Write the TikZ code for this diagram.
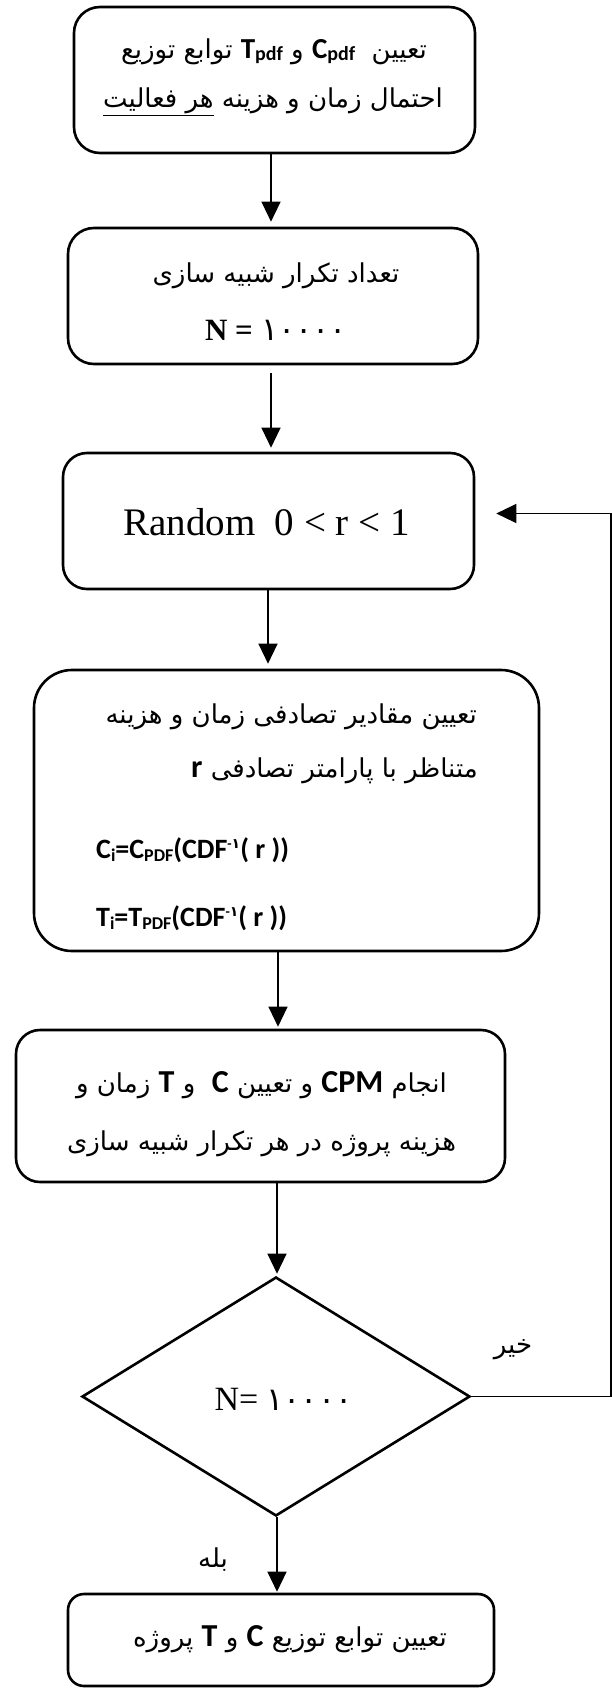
\documentclass[tikz,border=0pt]{standalone}
\usepackage{fontspec}
\setmainfont{Liberation Serif}
\newfontfamily\fa[Script=Arabic]{DejaVu Sans}
\newfontfamily\lbf{Carlito}
\TeXXeTstate=1
\usetikzlibrary{arrows.meta,shapes.geometric}
\newcommand\FA{\fa\fontsize{26}{30}\selectfont}
\newcommand\LB[2][30]{\mbox{\beginL\lbf\bfseries\fontsize{#1}{#1}\selectfont #2\endL}}
\newcommand\pdfsub{\raisebox{-2pt}{\fontsize{20}{20}\selectfont pdf}}
\newcommand\subs[1]{\raisebox{-3pt}{\fontsize{18}{18}\selectfont #1}}
\newcommand\sups[1]{\raisebox{10pt}{\fontsize{14}{14}\selectfont #1}}
\newcommand\dig{{\fa\fontsize{32}{32}\selectfont ۱۰۰۰۰}}
\tikzset{
  box/.style={draw, line width=2.6pt, rounded corners=#1, inner sep=0pt},
  box/.default=25pt,
  txt/.style={inner sep=0pt, font=\FA},
  arr/.style={line width=1.2pt, -{Triangle[length=20pt,width=19pt]}},
  fb/.style={line width=1.2pt}
}
\begin{document}
\begin{tikzpicture}[x=1pt,y=-1pt]
\useasboundingbox (0,0) rectangle (612,1688);
% shapes
\node[box=26pt, minimum width=401pt, minimum height=146pt] (b1) at (274.5,80) {};
\node[box=26pt, minimum width=410pt, minimum height=136pt] (b2) at (273,296) {};
\node[box=24pt, minimum width=411pt, minimum height=136pt] (b3) at (268.5,521) {};
\node[box=38pt, minimum width=505pt, minimum height=281pt] (b4) at (286.5,810.5) {};
\node[box=24pt, minimum width=489pt, minimum height=152pt] (b5) at (260.5,1106) {};
\node[diamond, draw, line width=2.6pt, minimum width=388pt, minimum height=239pt, inner sep=0pt] (d) at (276,1396.5) {};
\node[box=16pt, minimum width=426pt, minimum height=92pt] (b6) at (281,1640) {};
% texts
\node[txt] (t1a) at (274,52) {\beginR تعیین \ \LB[29]{C\pdfsub} و \LB[29]{T\pdfsub} توابع توزیع\endR};
\node[txt] (t1b) at (273,102) {\beginR احتمال زمان و هزینه \underline{\beginR هر فعالیت\endR}\endR};
\node[txt] (t2a) at (276,276) {\beginR تعداد تکرار شبیه سازی\endR};
\node[txt] (t2b) at (276,330) {{\fontspec{Liberation Serif}\bfseries\fontsize{31}{31}\selectfont N =} \dig};
\node[txt, font=\fontsize{39}{39}\selectfont] (t3) at (266.5,522) {Random\ \ 0 < r < 1};
\node[txt, anchor=east] (t4a) at (477,717) {\beginR تعیین مقادیر تصادفی زمان و هزینه\endR};
\node[txt, anchor=east] (t4b) at (478,771) {\beginR متناظر با پارامتر تصادفی \LB[32]{r}\endR};
\node[txt, anchor=west] (t4c) at (96,850) {\LB[28]{C\subs{i}=C\subs{PDF}(CDF\sups{-{\fa ۱}}( r ))}};
\node[txt, anchor=west] (t4d) at (96,918) {\LB[28]{T\subs{i}=T\subs{PDF}(CDF\sups{-{\fa ۱}}( r ))}};
\node[txt] (t5a) at (261.5,1085) {\beginR انجام \LB[32]{CPM} و تعیین \LB[32]{C} \ و \LB[32]{T} زمان و\endR};
\node[txt] (t5b) at (261.5,1144) {\beginR هزینه پروژه در هر تکرار شبیه سازی\endR};
\node[txt] (td) at (283.5,1399) {{\fontspec{Liberation Serif}\fontsize{34}{34}\selectfont N=} \dig};
\node[txt] (t6) at (290,1639) {\beginR تعیین توابع توزیع \LB[32]{C} و \LB[32]{T} پروژه\endR};
\node[txt] (no) at (513,1350) {\beginR خیر\endR};
\node[txt] (yes) at (213,1560) {\beginR بله\endR};
% connectors
\draw[arr, shorten >=5pt] ([xshift=-3.5pt]b1.south) -- ([xshift=-2pt]b2.north);
\draw[arr, shorten <=8pt, shorten >=4pt] ([xshift=-2pt]b2.south) -- ([xshift=2.5pt]b3.north);
\draw[arr, shorten >=5pt] ([xshift=-0.5pt]b3.south) -- ([xshift=-18.5pt]b4.north);
\draw[arr, shorten >=2pt] ([xshift=-8.5pt]b4.south) -- ([xshift=17.5pt]b5.north);
\draw[arr, shorten >=2pt] ([xshift=16.5pt]b5.south) -- ([xshift=1pt]d.north);
\draw[arr, shorten >=1pt] ([xshift=1pt]d.south) -- ([xshift=-4pt]b6.north);
\coordinate (fbc) at (611,1396.5);
\draw[fb] (d.east) -- (fbc);
\draw[arr] (fbc) |- ([shift={(21pt,7.5pt)}]b3.east);
\end{tikzpicture}
\end{document}
